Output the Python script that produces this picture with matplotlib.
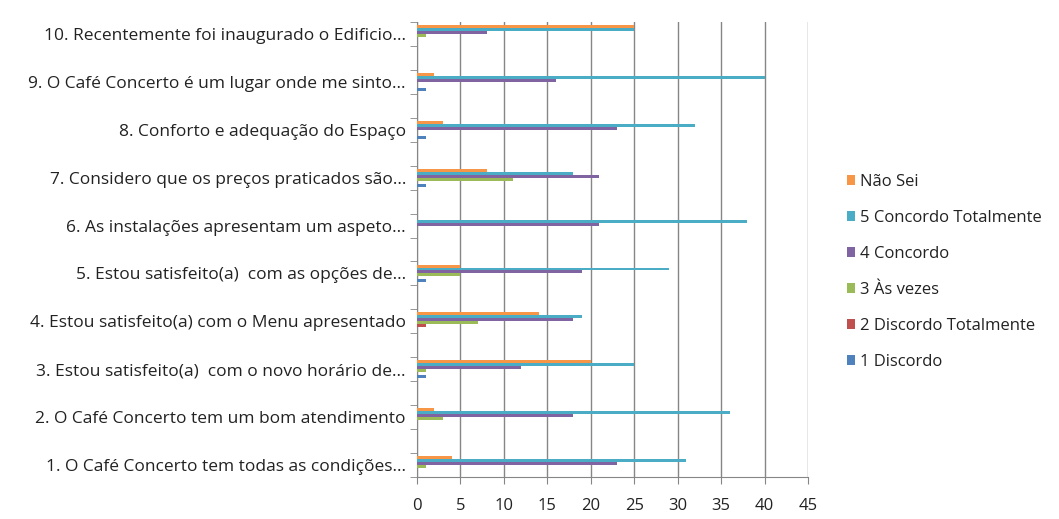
import numpy as np
from matplotlib import pyplot as plt

plt.rcParams['font.family'] = ['Open Sans', 'DejaVu Sans']

# Categories, bottom to top as drawn
categories = [
    "1. O Café Concerto tem todas as condições...",
    "2. O Café Concerto tem um bom atendimento",
    "3. Estou satisfeito(a)  com o novo horário de...",
    "4. Estou satisfeito(a) com o Menu apresentado",
    "5. Estou satisfeito(a)  com as opções de...",
    "6. As instalações apresentam um aspeto...",
    "7. Considero que os preços praticados são...",
    "8. Conforto e adequação do Espaço",
    "9. O Café Concerto é um lugar onde me sinto...",
    "10. Recentemente foi inaugurado o Edificio...",
]

series_names = ["1 Discordo", "2 Discordo Totalmente", "3 Às vezes",
                "4 Concordo", "5 Concordo Totalmente", "Não Sei"]

discordo = [0, 0, 1, 0, 1, 0, 1, 1, 1, 0]
discordo_total = [0, 0, 0, 1, 0, 0, 0, 0, 0, 0]
as_vezes = [1, 3, 1, 7, 5, 0, 11, 0, 0, 1]
concordo = [23, 18, 12, 18, 19, 21, 21, 23, 16, 8]
concordo_total = [31, 36, 25, 19, 29, 38, 18, 32, 40, 25]
nao_sei = [4, 2, 20, 14, 5, 0, 8, 3, 2, 25]

colors = ["#4F81BD", "#C0504D", "#9BBB59", "#8064A2", "#4BACC6", "#F79646"]
series = [discordo, discordo_total, as_vezes, concordo, concordo_total, nao_sei]

fig = plt.figure(figsize=(10.59, 5.19), dpi=100)
ax = fig.add_axes([417/1059, 1 - 477/519, (808 - 417)/1059, (477 - 22)/519])

y = np.arange(1, len(categories) + 1)
h = 0.062
n = len(series)
for k, (vals, name, c) in enumerate(zip(series, series_names, colors)):
    off = (k - (n - 1) / 2) * h
    ax.barh(y + off, vals, height=h, color=c, label=name, zorder=3)

ax.set_xlim(0, 45)
ax.set_ylim(0.75, 10.25)
ax.set_xticks(np.arange(0, 46, 5))
ax.set_yticks(y)
ax.set_yticklabels(categories, fontsize=12.5, color="#222222")
ax.set_yticks(np.concatenate([y - 0.25, y + 0.25]), minor=True)
ax.tick_params(axis='y', which='major', length=0, pad=8)
ax.tick_params(axis='y', which='minor', length=5, color="#868686")
ax.tick_params(axis='x', length=5, color="#868686", labelsize=12,
               labelcolor="#222222", pad=10)

ax.grid(axis='x', color="#868686", linewidth=1, zorder=0)
for s in ['top', 'right']:
    ax.spines[s].set_visible(False)
for s in ['left', 'bottom']:
    ax.spines[s].set_color("#868686")

handles, labels = ax.get_legend_handles_labels()
leg = fig.legend(handles[::-1], labels[::-1], loc='center left',
                 bbox_to_anchor=(832/1059, 1 - 272/519), frameon=False,
                 fontsize=12, labelspacing=1.2, handlelength=0.5,
                 handleheight=0.5, handletextpad=0.3)
for t in leg.get_texts():
    t.set_color("#222222")

fig.savefig("out.png", dpi=100, facecolor="white")
